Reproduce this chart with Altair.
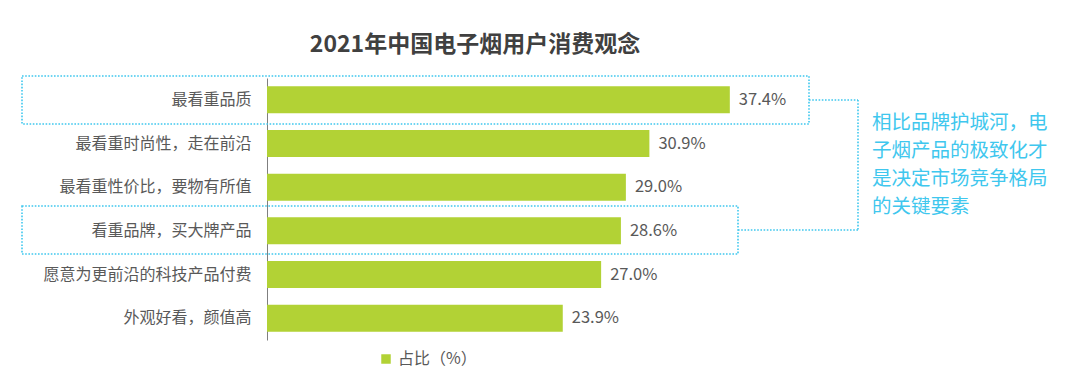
import altair as alt
import pandas as pd

categories = ["最看重品质", "最看重时尚性，走在前沿", "最看重性价比，要物有所值",
              "看重品牌，买大牌产品", "愿意为更前沿的科技产品付费", "外观好看，颜值高"]
values = [37.4, 30.9, 29.0, 28.6, 27.0, 23.9]
series = ["占比（%）"] * len(categories)
title_text = "2021年中国电子烟用户消费观念"
note_text = "相比品牌护城河，电\n子烟产品的极致化才\n是决定市场竞争格局\n的关键要素"

FONT = "Noto Sans CJK SC"
GREEN = "#B2D235"
CYAN = "#3FC7EE"
GRAY = "#595959"

df = pd.DataFrame({"cat": categories, "val": values, "series": series})

base = alt.Chart(df).encode(
    y=alt.Y("cat:N", sort=categories, title=None,
            scale=alt.Scale(paddingInner=0.38, paddingOuter=0.19),
            axis=alt.Axis(labelFontSize=16, labelColor=GRAY, labelFont=FONT,
                          labelPadding=16, ticks=False, domainColor="#7f7f7f",
                          domainWidth=1, labelLimit=400, grid=False)),
)

bars = base.mark_bar().encode(
    x=alt.X("val:Q", scale=alt.Scale(domain=[0, 40]), axis=None),
    color=alt.Color("series:N", scale=alt.Scale(range=[GREEN]),
                    legend=alt.Legend(title=None, orient="none", legendX=111, legendY=273,
                                      symbolType="square", symbolSize=90,
                                      labelFontSize=16, labelColor=GRAY, labelFont=FONT,
                                      symbolStrokeWidth=0)),
)

labels = base.transform_calculate(
    lbl="format(datum.val, '.1f') + '%'"
).mark_text(align="left", baseline="middle", dx=9, fontSize=16.5, color=GRAY, font=FONT).encode(
    x=alt.X("val:Q"), text="lbl:N"
)

one = alt.Data(values=[{}])

title = alt.Chart(one).mark_text(fontSize=23, fontWeight="bold", color="#404040",
                                 font=FONT, align="center", baseline="middle").encode(
    x=alt.value(208), y=alt.value(-33), text=alt.value(title_text))

box_style = dict(fillOpacity=0, stroke=CYAN, strokeWidth=1.6, strokeDash=[1.6, 1.6])
box1 = alt.Chart(one).mark_rect(**box_style).encode(
    x=alt.value(-245), x2=alt.value(542), y=alt.value(-2), y2=alt.value(46))
box2 = alt.Chart(one).mark_rect(**box_style).encode(
    x=alt.value(-245), x2=alt.value(471), y=alt.value(128), y2=alt.value(176))

line_style = dict(stroke=CYAN, strokeWidth=1.6, strokeDash=[1.6, 1.6])
c1 = alt.Chart(one).mark_rule(**line_style).encode(
    x=alt.value(542), x2=alt.value(591), y=alt.value(22))
c2 = alt.Chart(one).mark_rule(**line_style).encode(
    x=alt.value(591), y=alt.value(22), y2=alt.value(152))
c3 = alt.Chart(one).mark_rule(**line_style).encode(
    x=alt.value(471), x2=alt.value(591), y=alt.value(152))

note = alt.Chart(one).mark_text(fontSize=19.5, color=CYAN, font=FONT, align="left",
                                baseline="middle", lineBreak="\n", lineHeight=28).encode(
    x=alt.value(605), y=alt.value(45), text=alt.value(note_text))

chart = alt.layer(bars, labels, box1, box2, c1, c2, c3, note, title).properties(
    width=495, height=262,
    autosize=alt.AutoSizeParams(type="none"),
    padding={"left": 259, "top": 70, "right": 310, "bottom": 36},
).configure_view(stroke=None)

chart.save("out.html", embed_options={"renderer": "svg", "actions": False})
